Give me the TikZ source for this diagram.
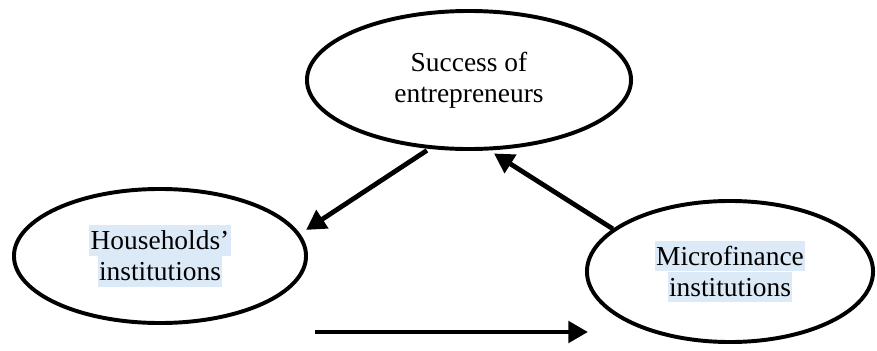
\documentclass[tikz,border=0pt]{standalone}
\usepackage{fontspec}
\setmainfont{Liberation Serif}
\usetikzlibrary{shapes.geometric,arrows.meta}
\definecolor{hlblue}{RGB}{220,234,248}
\newcommand{\hlline}[1]{{\setlength{\fboxsep}{0pt}\colorbox{hlblue}{\rule[-4.3pt]{0pt}{21.8pt}\kern1pt #1\kern1pt}}}
\begin{document}
\begin{tikzpicture}[x=0.025cm,y=-0.025cm,
    oval/.style={draw,ellipse,line width=2.8pt,align=center,inner sep=0pt,
      font=\fontsize{19.5}{22}\selectfont},
    link/.style={line width=3.4pt,-{Triangle[length=14pt,width=15pt]}}]
  \useasboundingbox (0,0) rectangle (877,350);
  \node[oval,minimum width=8.1cm,minimum height=3.45cm] (SoE) at (469,80) {Success of\\entrepreneurs};
  \node[oval,minimum width=7.3cm,minimum height=3.35cm] (HI) at (160,256) {\hlline{Households'}\\\hlline{institutions}};
  \node[oval,minimum width=7.15cm,minimum height=3.525cm] (MFI) at (730,271.5) {\hlline{Microfinance}\\\hlline{institutions}};
  \coordinate (gapL) at (315,332);
  \coordinate (gapR) at (588,332);

  \draw[link,shorten <=2pt,shorten >=5pt] (SoE.240) to (HI.9);
  \draw[link,shorten >=4pt] (MFI.160) to (SoE.286);
  \draw[link] (gapL) to (gapR);
\end{tikzpicture}
\end{document}
